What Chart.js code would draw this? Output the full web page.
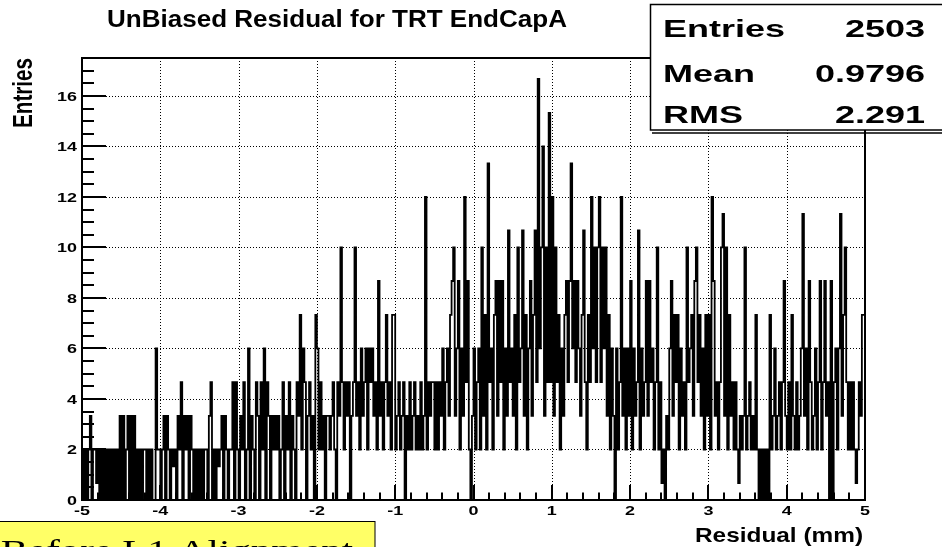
<!DOCTYPE html>
<html>
<head>
<meta charset="utf-8">
<script src="https://cdn.jsdelivr.net/npm/chart.js@4.4.0/dist/chart.umd.min.js"></script>
<style>
  html, body { margin: 0; padding: 0; background: #fff; }
  #wrap { width: 942px; height: 547px; }
</style>
</head>
<body>
<div id="wrap"><canvas id="histo" width="942" height="547"></canvas></div>
<script>
const chartTitle = 'UnBiased Residual for TRT EndCapA';
const xAxisTitle = 'Residual (mm)';
const yAxisTitle = 'Entries';
const noteText = 'Before L1 Alignment';

const xRange = [-5, 5];
const yRange = [0, 17.5];
const xTickLabels = ['-5', '-4', '-3', '-2', '-1', '0', '1', '2', '3', '4', '5'];
const yTickLabels = ['0', '2', '4', '6', '8', '10', '12', '14', '16'];

const statNames = ['Entries', 'Mean', 'RMS'];
const statValues = ['2503', '0.9796', '2.291'];

// bin contents, 500 bins of 0.02 mm from -5 to 5 (25 bins per row)
const binValues = [
  0,2,0,2,0,2,3.33,0,2,2,0.67,2,0,2,0,2,0,2,0,2,0,2,0,2,0,
  3.33,0,3.33,0,2,3.33,0,3.33,0,3.33,0,2,0,2,0,2,2,0,2,0,2,0,0,6,2,
  2,0,2,3.33,0,3.33,2,0,2,1.33,2,0,3.33,2,4.67,0,3.33,2,3.33,0,3.33,2,0,2,0,
  2,0,2,0,2,2,0,3.33,4.67,0,2,0,2,1.33,2,3.33,0,3.33,2,0,2,2,4.67,0,4.67,
  2,0,3.33,2,4.67,0,2,6,0,3.33,2,0,4.67,3.33,0,4.67,2,6,0,4.67,3.33,0,3.33,2,3.33,
  2,3.33,0,2,4.67,0,3.33,2,4.67,0,3.33,2,0,4.67,3.33,7.33,2,6,4.67,0,3.33,4.67,2,3.33,0,
  7.33,6,2,4.67,2,3.33,0,3.33,3.33,2,3.33,4.67,2,0,4.67,3.33,10,4.67,2,4.67,3.33,4.67,0,3.33,4.67,
  10,3.33,4.67,2,6,3.33,4.67,6,2,6,4.67,6,3.33,4.67,2,8.67,3.33,4.67,2,4.67,7.33,3.33,4.67,2,7.33,
  7.33,2,3.33,4.67,2,3.33,4.67,0,3.33,2,4.67,2,3.33,4.67,2,3.33,2,4.67,2,3.33,12,2,4.67,3.33,4.67,
  4.67,2,4.67,2,4.67,3.33,6,2,4.67,6,3.33,7.33,8.67,10,3.33,6,8.67,2,6,3.33,12,4.67,8.67,2,0,
  3.33,6,2,4.67,6,2,10,3.33,7.33,2,13.33,4.67,6,2,7.33,8.67,3.33,8.67,4.67,8.67,2,6,3.33,10.67,4.67,
  6,3.33,7.33,2,10,4.67,6,10.67,3.33,7.33,2,6,8.67,3.33,7.33,10.67,4.67,16.67,6,10,14,3.33,10,4.67,15.33,
  4.67,12,3.33,10,4.67,7.33,2,6,3.33,7.33,8.67,4.67,8.67,13.33,6,8.67,4.67,8.67,6,3.33,7.33,10.67,4.67,2,7.33,
  4.67,12,6,10,4.67,10,12,4.67,10,6,10,3.33,7.33,2,6,3.33,0,6,2,4.67,12,3.33,6,2,6,
  3.33,8.67,2,6,3.33,4.67,10.67,2,6,3.33,4.67,8.67,3.33,8.67,4.67,6,2,4.67,10,2,4.67,0.67,2,0,3.33,
  2,6,8.67,3.33,7.33,4.67,7.33,2,6,3.33,4.67,2,10,4.67,6,7.33,3.33,8.67,10,4.67,7.33,3.33,6,2,7.33,
  3.33,7.33,2,12,8.67,3.33,4.67,2,4.67,10,11.33,3.33,10,2,7.33,3.33,4.67,2,4.67,2,0.67,3.33,2,3.33,10,
  2,3.33,4.67,2,3.33,2,7.33,2,0,2,0,2,0,2,0,7.33,2,3.33,6,2,3.33,4.67,2,4.67,8.67,
  3.33,2,4.67,2,7.33,3.33,2,4.67,2,3.33,6,11.33,3.33,6,2,8.67,4.67,2,3.33,6,2,4.67,8.67,2,4.67,
  8.67,3.33,4.67,0,8.67,0,4.67,6,2,6,11.33,3.33,7.33,10,4.67,2,4.67,2,4.67,2,0.67,2,4.67,3.33,7.33
];

const binWidth = (xRange[1] - xRange[0]) / binValues.length;
const points = binValues.map((v, i) => ({ x: xRange[0] + i * binWidth, y: v }));
points.push({ x: xRange[1], y: binValues[binValues.length - 1] });

const SANS = '"Liberation Sans", Arial, sans-serif';
const SERIF = '"Liberation Serif", "Times New Roman", serif';

// text drawn wider than the font, like the stretched original
function stretchText(ctx, text, x, y, font, sx, align) {
  ctx.save();
  ctx.font = font;
  ctx.translate(x, y);
  ctx.scale(sx, 1);
  ctx.textAlign = align || 'left';
  ctx.textBaseline = 'alphabetic';
  ctx.fillStyle = '#000';
  ctx.fillText(text, 0, 0);
  ctx.restore();
}

function fitFactor(ctx, text, font, width) {
  ctx.font = font;
  return width / ctx.measureText(text).width;
}

const rootStyle = {
  id: 'rootStyle',
  beforeDraw(chart) {
    const ctx = chart.ctx;
    ctx.save();
    ctx.fillStyle = '#fff';
    ctx.fillRect(0, 0, chart.width, chart.height);
    ctx.restore();
  },
  beforeDatasetsDraw(chart) {
    const { ctx, chartArea: a, scales: { x, y } } = chart;
    ctx.save();
    ctx.strokeStyle = '#000';
    ctx.lineWidth = 1;
    ctx.setLineDash([1, 2]);
    xTickLabels.map(Number).forEach(v => {
      if (v <= xRange[0] || v >= xRange[1]) return;
      const px = Math.round(x.getPixelForValue(v)) + 0.5;
      ctx.beginPath(); ctx.moveTo(px, a.top); ctx.lineTo(px, a.bottom); ctx.stroke();
    });
    yTickLabels.map(Number).forEach(v => {
      if (v <= yRange[0]) return;
      const py = Math.round(y.getPixelForValue(v)) + 0.5;
      ctx.beginPath(); ctx.moveTo(a.left, py); ctx.lineTo(a.right, py); ctx.stroke();
    });
    ctx.restore();
  },
  afterDatasetsDraw(chart) {
    const { ctx, chartArea: a, scales: { x, y } } = chart;
    ctx.save();
    ctx.strokeStyle = '#000';
    ctx.setLineDash([]);

    // frame
    ctx.lineWidth = 2;
    ctx.strokeRect(a.left, a.top, a.right - a.left, a.bottom - a.top);

    // ticks
    ctx.lineWidth = 2;
    ctx.beginPath();
    for (let v = yRange[0]; v < yRange[1]; v += 0.5) {
      const py = Math.round(y.getPixelForValue(v));
      const len = (v % 2 === 0) ? 24 : 12;
      ctx.moveTo(a.left, py); ctx.lineTo(a.left + len, py);
    }
    for (let k = 0; k <= 50; k++) {
      const v = xRange[0] + k * 0.2;
      const px = Math.round(x.getPixelForValue(v));
      const len = (k % 5 === 0) ? 15 : 7.5;
      ctx.moveTo(px, a.bottom); ctx.lineTo(px, a.bottom - len);
    }
    ctx.stroke();

    // tick labels
    const tickFont = 'bold 13px ' + SANS;
    yTickLabels.forEach(t => {
      stretchText(ctx, t, a.left - 5, y.getPixelForValue(Number(t)) + 4.7, tickFont, 1.38, 'right');
    });
    xTickLabels.forEach(t => {
      stretchText(ctx, t, x.getPixelForValue(Number(t)), a.bottom + 15, tickFont, 1.38, 'center');
    });

    // title
    const titleFont = 'bold 23px ' + SANS;
    stretchText(ctx, chartTitle, 107, 27, titleFont, fitFactor(ctx, chartTitle, titleFont, 460), 'left');

    // axis titles
    const xtFont = 'bold 21px ' + SANS;
    stretchText(ctx, xAxisTitle, 863, 542, xtFont, fitFactor(ctx, xAxisTitle, xtFont, 168), 'right');

    const ytFont = 'bold 20px ' + SANS;
    ctx.save();
    ctx.font = ytFont;
    const ytw = ctx.measureText(yAxisTitle).width;
    ctx.translate(32, 128);
    ctx.rotate(-Math.PI / 2);
    ctx.scale(70 / ytw, 1.38);
    ctx.fillStyle = '#000';
    ctx.textBaseline = 'alphabetic';
    ctx.fillText(yAxisTitle, 0, 0);
    ctx.restore();

    // stats box
    ctx.fillStyle = '#fff';
    ctx.fillRect(650, 4, 300, 126);
    ctx.lineWidth = 1.5;
    ctx.strokeRect(650.5, 4.5, 300, 125.5);
    ctx.beginPath();
    ctx.moveTo(652, 133); ctx.lineTo(942, 133);
    ctx.stroke();
    const statFont = 'bold 24px ' + SANS;
    const rows = [37, 81.5, 122.5];
    statNames.forEach((n, i) => {
      stretchText(ctx, n, 663, rows[i], statFont, 1.5, 'left');
      stretchText(ctx, statValues[i], 925, rows[i], statFont, 1.5, 'right');
    });

    // note box
    ctx.fillStyle = '#ffff66';
    ctx.fillRect(-2, 521.5, 377, 30);
    ctx.lineWidth = 1;
    ctx.strokeRect(-2, 521.5, 377, 30);
    const noteFont = '30px ' + SERIF;
    ctx.font = noteFont;
    const sxNote = 175 / ctx.measureText('Alignment').width;
    const preW = ctx.measureText('Before L1 ').width * sxNote;
    stretchText(ctx, noteText, 178 - preW, 560, noteFont, sxNote, 'left');

    ctx.restore();
  }
};

new Chart(document.getElementById('histo'), {
  type: 'line',
  data: {
    datasets: [{
      label: 'residual',
      data: points,
      stepped: 'after',
      borderColor: '#000',
      borderWidth: 1.8,
      pointRadius: 0,
      fill: false,
      tension: 0
    }]
  },
  options: {
    responsive: false,
    animation: false,
    devicePixelRatio: 1,
    layout: { padding: { left: 82, top: 58, right: 77, bottom: 47 } },
    plugins: { legend: { display: false }, tooltip: { enabled: false }, title: { display: false } },
    scales: {
      x: { type: 'linear', min: xRange[0], max: xRange[1], display: false },
      y: { type: 'linear', min: yRange[0], max: yRange[1], display: false }
    }
  },
  plugins: [rootStyle]
});
</script>
</body>
</html>
